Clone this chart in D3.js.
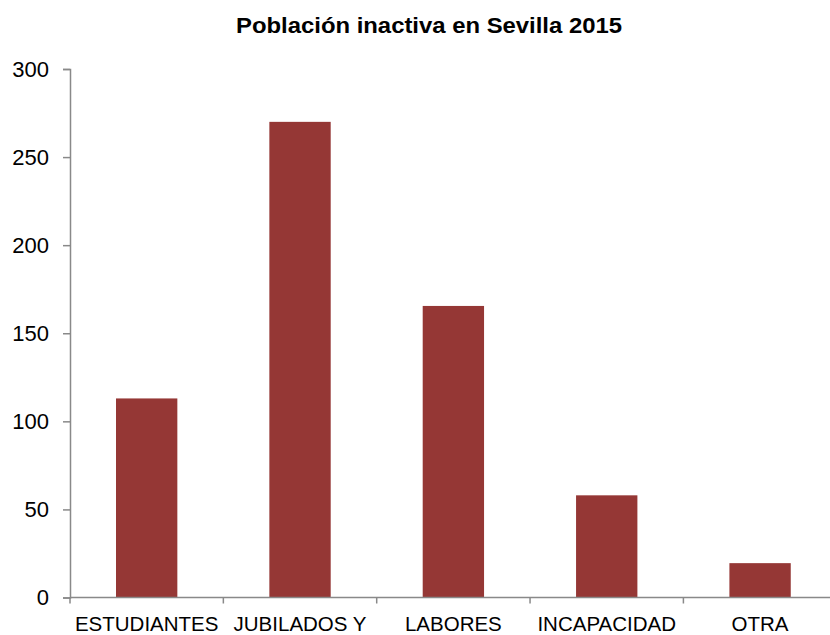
<!DOCTYPE html>
<html><head><meta charset="utf-8">
<script src="https://cdn.jsdelivr.net/npm/d3@7"></script>
<style>body{margin:0;background:#fff}svg{display:block}text{font-family:"Liberation Sans",Arial,sans-serif;fill:#000}</style>
</head><body><svg id="c" width="830" height="635"></svg>
<script>
const categories = ["ESTUDIANTES", "JUBILADOS Y", "LABORES", "INCAPACIDAD", "OTRA"];
const values = [113, 270, 165.5, 58, 19.5];
const yTicks = [0, 50, 100, 150, 200, 250, 300];
const title = "Población inactiva en Sevilla 2015";

const svg = d3.select("#c");
const x0 = 70, step = 153.35, y0 = 597.5, yTop = 69;
const x = d3.scaleBand().domain(categories).range([x0, x0 + step * categories.length]).paddingInner(0.6).paddingOuter(0.3);
const y = d3.scaleLinear().domain([0, 300]).range([y0, yTop]);
const axisColor = "#898989";

svg.append("text").attr("x", 429).attr("y", 33).attr("text-anchor", "middle")
  .attr("textLength", 386).attr("lengthAdjust", "spacingAndGlyphs")
  .style("font-weight", "bold").style("font-size", "21.5px").text(title);

// bars
svg.selectAll("rect.bar").data(values).join("rect").attr("class", "bar")
  .attr("x", (d, i) => x(categories[i])).attr("width", x.bandwidth())
  .attr("y", d => y(d)).attr("height", d => y0 - y(d)).attr("fill", "#953735");

// y axis
const ya = svg.append("g").attr("transform", `translate(${x0},0)`)
  .call(d3.axisLeft(y).tickValues(yTicks).tickSize(7).tickPadding(14));
ya.select(".domain").attr("stroke", axisColor).attr("stroke-width", 1.5);
ya.selectAll(".tick line").attr("stroke", axisColor).attr("stroke-width", 1.5);
ya.selectAll(".tick text").style("font-size", "22px").style("font-family", "Liberation Sans, Arial, sans-serif").attr("fill", "#000");

// x axis
const xb = d3.scaleLinear().domain([0, categories.length]).range([x0, x0 + step * categories.length]);
svg.append("line").attr("x1", x0).attr("x2", x0 + step * categories.length).attr("y1", y0).attr("y2", y0)
  .attr("stroke", axisColor).attr("stroke-width", 1.5);
svg.selectAll("line.xt").data(d3.range(categories.length + 1)).join("line").attr("class", "xt")
  .attr("x1", d => xb(d)).attr("x2", d => xb(d)).attr("y1", y0).attr("y2", y0 + 6)
  .attr("stroke", axisColor).attr("stroke-width", 1.5);
svg.selectAll("text.xl").data(categories).join("text").attr("class", "xl")
  .attr("x", d => x(d) + x.bandwidth() / 2).attr("y", 631).attr("text-anchor", "middle")
  .style("font-size", "20.5px").text(d => d);
</script></body></html>
